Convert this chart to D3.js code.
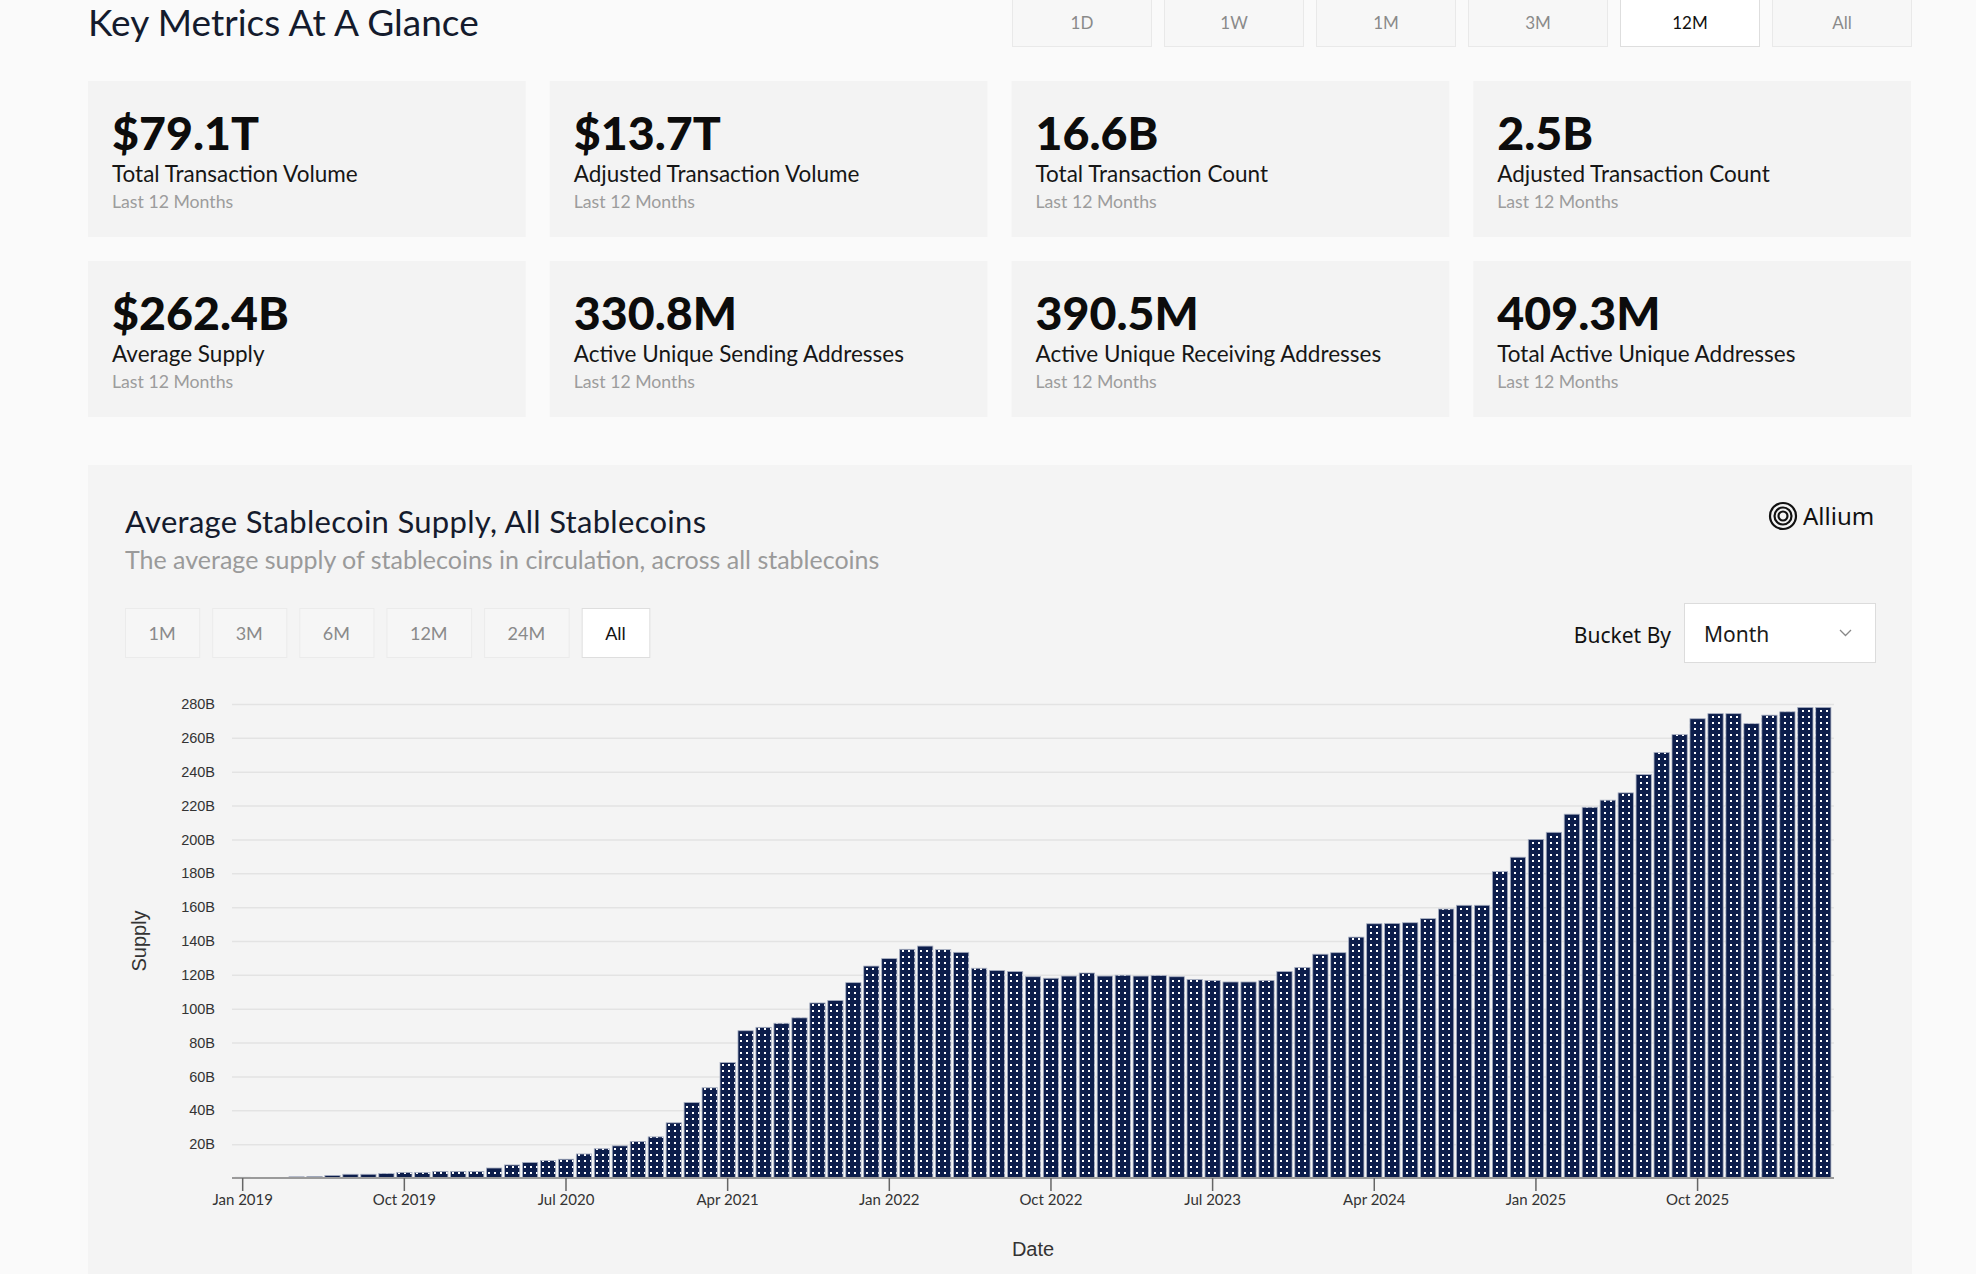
<!DOCTYPE html>
<html>
<head>
<meta charset="utf-8">
<script src="https://cdn.jsdelivr.net/npm/d3@7"></script>
<style>
  body { margin: 0; background: #fafafa; overflow: hidden; }
  svg { display: block; font-family: Lato, "Noto Sans", sans-serif; }
</style>
</head>
<body>
<svg id="page"></svg>
<script>
// ---- data ----
var pageTitle = "Key Metrics At A Glance";
var rangeButtons = ["1D", "1W", "1M", "3M", "12M", "All"];
var activeRange = "12M";

var metricValues = ["$79.1T", "$13.7T", "16.6B", "2.5B", "$262.4B", "330.8M", "390.5M", "409.3M"];
var metricLabels = ["Total Transaction Volume", "Adjusted Transaction Volume", "Total Transaction Count",
    "Adjusted Transaction Count", "Average Supply", "Active Unique Sending Addresses",
    "Active Unique Receiving Addresses", "Total Active Unique Addresses"];
var metricNote = "Last 12 Months";

var chartTitle = "Average Stablecoin Supply, All Stablecoins";
var chartSubtitle = "The average supply of stablecoins in circulation, across all stablecoins";
var chartRanges = ["1M", "3M", "6M", "12M", "24M", "All"];
var activeChartRange = "All";
var bucketOptions = ["Month"];

// monthly average supply in billions, Jan 2019 .. May 2026
var firstMonth = new Date(2019, 0, 1);
var supply = [0.4, 0.3, 0.3, 0.7, 0.9, 1.5, 2.2, 2.2, 2.6, 3.3,
    3.3, 3.9, 3.9, 3.9, 5.9, 7.7, 9.2, 10.3, 11.1, 14.2,
    17.3, 19.0, 21.6, 24.3, 32.6, 44.6, 53.3, 68.2, 87.0, 89.0,
    91.4, 94.6, 103.4, 104.9, 115.4, 125.2, 129.6, 135.1, 137.0, 134.9,
    133.3, 123.9, 122.6, 122.0, 118.9, 118.0, 119.3, 121.1, 119.3, 119.8,
    119.3, 119.6, 118.9, 117.2, 116.7, 115.8, 115.8, 116.7, 122.0, 124.4,
    132.2, 133.1, 142.3, 150.2, 150.4, 150.8, 153.2, 158.9, 161.1, 161.1,
    181.0, 189.5, 200.0, 204.2, 214.9, 219.0, 223.2, 227.5, 238.3, 251.4,
    261.9, 271.3, 274.3, 274.3, 268.4, 273.4, 275.4, 278.0, 278.0];
var yTicks = [20, 40, 60, 80, 100, 120, 140, 160, 180, 200, 220, 240, 260, 280];

var months = supply.map(function(d, i) { return d3.timeMonth.offset(firstMonth, i); });

// ---- page ----
var W = 1976, H = 1274;
var svg = d3.select("#page").attr("width", W).attr("height", H);

svg.append("text")
    .attr("x", 88).attr("y", 36)
    .attr("font-size", 37).attr("fill", "#141b2d")
    .text(pageTitle);

// time range buttons, top right
var topBtn = svg.selectAll(".topbtn")
    .data(rangeButtons)
    .enter().append("g")
    .attr("transform", function(d, i) { return "translate(" + (1012 + i * 152) + ",-3)"; });
topBtn.append("rect")
    .attr("x", 0.5).attr("y", 0.5)
    .attr("width", 139).attr("height", 49)
    .attr("fill", function(d) { return d === activeRange ? "#fff" : "#f7f7f7"; })
    .attr("stroke", function(d) { return d === activeRange ? "#dedede" : "#e9e9e9"; });
topBtn.append("text")
    .attr("x", 70).attr("y", 32)
    .attr("text-anchor", "middle")
    .attr("font-size", 17)
    .attr("fill", function(d) { return d === activeRange ? "#111" : "#8a8a8a"; })
    .text(function(d) { return d; });

// metric cards
var cardW = 437.75, cardH = 156;
var card = svg.selectAll(".card")
    .data(metricValues)
    .enter().append("g")
    .attr("transform", function(d, i) {
        return "translate(" + (88 + (i % 4) * (cardW + 24)) + "," + (81 + Math.floor(i / 4) * 180) + ")";
    });
card.append("rect")
    .attr("width", cardW).attr("height", cardH)
    .attr("fill", "#f3f3f3");
card.append("text")
    .attr("x", 24).attr("y", 69)
    .attr("font-size", 46.5).attr("font-weight", 900)
    .attr("fill", "#0c0c0c")
    .text(function(d) { return d; });
card.append("text")
    .attr("x", 24).attr("y", 101)
    .attr("font-size", 22.5)
    .attr("fill", "#161616")
    .text(function(d, i) { return metricLabels[i]; });
card.append("text")
    .attr("x", 24).attr("y", 127)
    .attr("font-size", 17.7)
    .attr("fill", "#9c9c9c")
    .text(metricNote);

// chart panel
svg.append("rect")
    .attr("x", 88).attr("y", 465)
    .attr("width", 1824).attr("height", H - 465)
    .attr("fill", "#f4f4f4");

svg.append("text")
    .attr("x", 125).attr("y", 533)
    .attr("font-size", 31).attr("letter-spacing", 0.3).attr("fill", "#141b2d")
    .text(chartTitle);
svg.append("text")
    .attr("x", 125).attr("y", 569)
    .attr("font-size", 25).attr("fill", "#9a9a9a")
    .text(chartSubtitle);

// chart range buttons
var bx = 125;
chartRanges.forEach(function(d) {
    var g = svg.append("g");
    var t = g.append("text")
        .attr("y", 640)
        .attr("text-anchor", "middle")
        .attr("font-size", 18)
        .attr("fill", d === activeChartRange ? "#111" : "#8a8a8a")
        .text(d);
    var w = t.node().getComputedTextLength() + 47;
    g.insert("rect", "text")
        .attr("x", bx + 0.5).attr("y", 608.5)
        .attr("width", w).attr("height", 49)
        .attr("fill", d === activeChartRange ? "#fff" : "#f6f6f6")
        .attr("stroke", d === activeChartRange ? "#dedede" : "#ebebeb");
    t.attr("x", bx + w / 2);
    bx += w + 13;
});

// Allium logo
var logo = svg.append("g").attr("transform", "translate(1783,516)");
[13, 8.5, 4.5].forEach(function(r) {
    logo.append("circle").attr("r", r).attr("fill", "none").attr("stroke", "#111").attr("stroke-width", 2.2);
});
svg.append("text")
    .attr("x", 1803).attr("y", 525)
    .attr("font-family", "'Noto Sans', sans-serif")
    .attr("font-size", 24).attr("fill", "#111")
    .text("Allium");

// bucket by
svg.append("text")
    .attr("x", 1671).attr("y", 643)
    .attr("text-anchor", "end")
    .attr("font-family", "'Noto Sans', sans-serif")
    .attr("font-size", 21).attr("fill", "#111")
    .text("Bucket By");
svg.append("rect")
    .attr("x", 1684.5).attr("y", 603.5)
    .attr("width", 191).attr("height", 59)
    .attr("fill", "#fff").attr("stroke", "#dcdcdc");
svg.append("text")
    .attr("x", 1704).attr("y", 642)
    .attr("font-family", "'Noto Sans', sans-serif")
    .attr("font-size", 21).attr("fill", "#1a1a1a")
    .text(bucketOptions[0]);
svg.append("path")
    .attr("d", "M1840,630 L1845.5,635.5 L1851,630")
    .attr("fill", "none").attr("stroke", "#888").attr("stroke-width", 1.3);

// ---- bar chart ----
var plot = { left: 232, right: 1834, top: 704, bottom: 1178 };

var xScale = d3.scaleBand()
    .domain(months)
    .range([plot.left, plot.right])
    .paddingInner(0.15)
    .paddingOuter(0.17);
var yScale = d3.scaleLinear()
    .domain([0, 280])
    .range([plot.bottom, plot.top]);

// dotted fill
var defs = svg.append("defs");
var pat = defs.append("pattern")
    .attr("id", "dots")
    .attr("patternUnits", "userSpaceOnUse")
    .attr("width", 6).attr("height", 6);
pat.append("rect").attr("width", 6).attr("height", 6).attr("fill", "#0c1d4b");
pat.append("rect").attr("x", 2).attr("y", 2).attr("width", 2).attr("height", 2).attr("fill", "#ffffff");

// gridlines + y labels
var yAxis = d3.axisLeft(yScale)
    .tickValues(yTicks)
    .tickSize(-(plot.right - plot.left))
    .tickPadding(17)
    .tickFormat(function(d) { return d + "B"; });
var gy = svg.append("g")
    .attr("transform", "translate(" + plot.left + ",0)")
    .call(yAxis);
gy.select(".domain").remove();
gy.selectAll(".tick line").attr("stroke", "#e3e3e3").attr("stroke-width", 1.5);
gy.selectAll(".tick text")
    .attr("font-family", "'Liberation Sans', Arial, sans-serif")
    .attr("font-size", 14.5).attr("fill", "#333");

// bars
svg.append("g").selectAll(".bar")
    .data(supply)
    .enter().append("rect")
    .attr("class", "bar")
    .attr("x", function(d, i) { return xScale(months[i]); })
    .attr("y", function(d) { return yScale(d); })
    .attr("width", xScale.bandwidth())
    .attr("height", function(d) { return yScale(0) - yScale(d); })
    .attr("fill", "url(#dots)")
    .attr("stroke", "#a9b0c2")
    .attr("stroke-width", 0.8);

// x axis
var xAxis = d3.axisBottom(xScale)
    .tickValues(months.filter(function(d, i) { return i % 9 === 0; }))
    .tickSize(13)
    .tickPadding(3.5)
    .tickFormat(d3.timeFormat("%b %Y"));
var gx = svg.append("g")
    .attr("transform", "translate(0," + plot.bottom + ")")
    .call(xAxis);
gx.select(".domain")
    .attr("d", "M" + plot.left + ",0H" + plot.right)
    .attr("stroke", "#9a9a9a").attr("stroke-width", 2);
gx.selectAll(".tick line").attr("stroke", "#666").attr("stroke-width", 1.5);
gx.selectAll(".tick text")
    .attr("font-family", "Lato, sans-serif")
    .attr("font-size", 15).attr("fill", "#333");

// axis titles
svg.append("text")
    .attr("x", (plot.left + plot.right) / 2).attr("y", 1256)
    .attr("text-anchor", "middle")
    .attr("font-family", "'Liberation Sans', Arial, sans-serif")
    .attr("font-size", 20).attr("fill", "#333")
    .text("Date");
svg.append("text")
    .attr("transform", "translate(146,941) rotate(-90)")
    .attr("text-anchor", "middle")
    .attr("font-family", "'Liberation Sans', Arial, sans-serif")
    .attr("font-size", 20).attr("fill", "#333")
    .text("Supply");
</script>
</body>
</html>
